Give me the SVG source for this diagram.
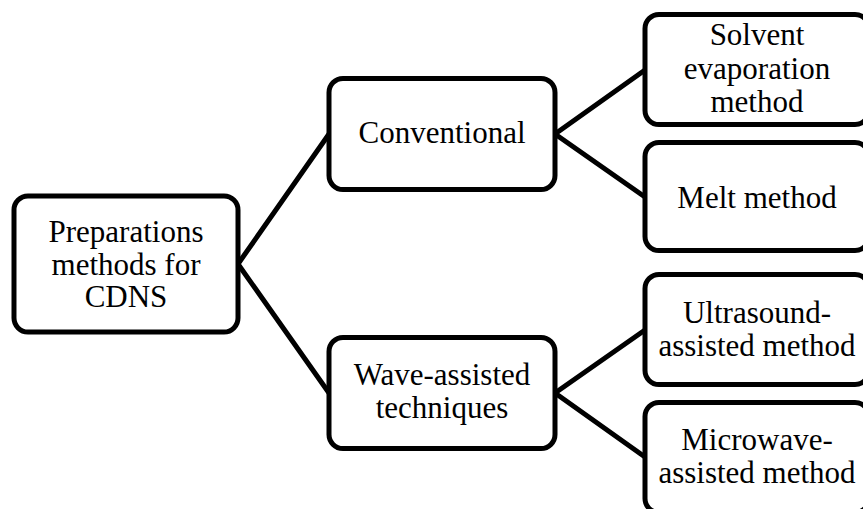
<svg xmlns="http://www.w3.org/2000/svg" width="863" height="509" viewBox="0 0 863 509">
  <style>
    .box { fill: #ffffff; stroke: #000000; stroke-width: 5; }
    .lbl { font-size: 31px; fill: #000000; text-anchor: middle; }
    .link { stroke: #000000; stroke-width: 5; fill: none; stroke-linecap: round; }
  </style>
  <rect width="863" height="509" fill="#ffffff"/>

  <!-- tree connectors -->
  <g id="connectors">
    <line class="link" x1="238" y1="264" x2="329" y2="134"/>
    <line class="link" x1="238" y1="264" x2="329" y2="393"/>
    <line class="link" x1="555" y1="134" x2="645" y2="70"/>
    <line class="link" x1="555" y1="134" x2="645" y2="197"/>
    <line class="link" x1="555" y1="393" x2="645" y2="330"/>
    <line class="link" x1="555" y1="393" x2="645" y2="457"/>
  </g>

  <g font-family="'Liberation Serif', 'DejaVu Serif', serif">
    <g id="root">
      <rect class="box" x="14" y="196" width="224" height="136" rx="14"/>
      <text class="lbl" x="126" y="242">Preparations</text>
      <text class="lbl" x="126" y="275">methods for</text>
      <text class="lbl" x="126" y="307">CDNS</text>
    </g>

    <g id="conventional">
      <rect class="box" x="329" y="78.5" width="226" height="111" rx="14"/>
      <text class="lbl" x="442" y="143">Conventional</text>
    </g>

    <g id="wave-assisted">
      <rect class="box" x="329" y="337.5" width="226" height="111" rx="14"/>
      <text class="lbl" x="442" y="385">Wave-assisted</text>
      <text class="lbl" x="442" y="418">techniques</text>
    </g>

    <g id="solvent-evaporation">
      <rect class="box" x="645" y="14.5" width="224" height="110" rx="14"/>
      <text class="lbl" x="757" y="45">Solvent</text>
      <text class="lbl" x="757" y="79">evaporation</text>
      <text class="lbl" x="757" y="112">method</text>
    </g>

    <g id="melt">
      <rect class="box" x="645" y="142.5" width="224" height="108" rx="14"/>
      <text class="lbl" x="757" y="208">Melt method</text>
    </g>

    <g id="ultrasound">
      <rect class="box" x="645" y="274.5" width="224" height="110" rx="14"/>
      <text class="lbl" x="757" y="323">Ultrasound-</text>
      <text class="lbl" x="757" y="356">assisted method</text>
    </g>

    <g id="microwave">
      <rect class="box" x="645" y="402.5" width="224" height="110" rx="14"/>
      <text class="lbl" x="757" y="450">Microwave-</text>
      <text class="lbl" x="757" y="483">assisted method</text>
    </g>
  </g>
</svg>
